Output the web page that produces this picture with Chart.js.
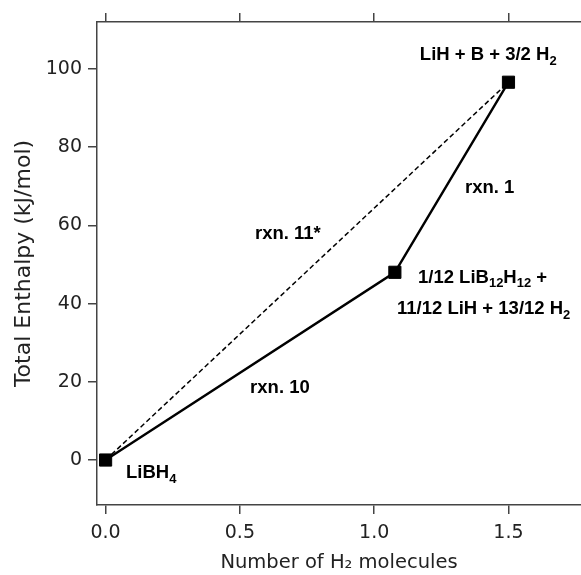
<!DOCTYPE html>
<html>
<head>
<meta charset="utf-8">
<script src="https://cdn.jsdelivr.net/npm/chart.js@4/dist/chart.umd.min.js"></script>
<style>
  html, body { margin: 0; padding: 0; background: #ffffff; }
  #wrap { width: 581px; height: 575px; }
</style>
</head>
<body>
<div id="wrap"><canvas id="c" width="581" height="575"></canvas></div>
<script>
// ---- data ----
const h2Molecules = [0, 1.077, 1.5];
const totalEnthalpy = [0, 48.0, 96.6];
const directH2 = [0, 1.5];
const directEnthalpy = [0, 96.6];
const xTicks = [0, 0.5, 1.0, 1.5];
const yTicks = [0, 20, 40, 60, 80, 100];

// annotation labels (text with _{...} subscripts) and their anchor in data units
const annLabels = [
  "LiH + B + 3/2 H_{2}",
  "rxn. 1",
  "rxn. 11*",
  "1/12 LiB_{12}H_{12} +",
  "11/12 LiH + 13/12 H_{2}",
  "rxn. 10",
  "LiBH_{4}"
];
const annX = [1.170, 1.338, 0.556, 1.163, 1.085, 0.538, 0.076];
const annY = [102.2, 68.3, 56.5, 45.3, 37.3, 17.1, -4.7];

const AXIS_FONT = "'DejaVu Sans', Verdana, sans-serif";
const ANN_FONT = "'Liberation Sans', Arial, sans-serif";
const AXIS_COLOR = '#444444';

function parseSegments(s) {
  const out = [];
  const re = /_\{([^}]*)\}/g;
  let last = 0, m;
  while ((m = re.exec(s)) !== null) {
    if (m.index > last) out.push({t: s.slice(last, m.index), sub: false});
    out.push({t: m[1], sub: true});
    last = re.lastIndex;
  }
  if (last < s.length) out.push({t: s.slice(last), sub: false});
  return out;
}

const annotationPlugin = {
  id: 'annText',
  afterDatasetsDraw(chart) {
    const ctx = chart.ctx;
    const xs = chart.scales.x, ys = chart.scales.y;
    ctx.save();
    ctx.fillStyle = '#000';
    ctx.textBaseline = 'alphabetic';
    ctx.textAlign = 'left';
    annLabels.forEach((lab, i) => {
      let px = xs.getPixelForValue(annX[i]);
      const py = ys.getPixelForValue(annY[i]);
      parseSegments(lab).forEach(seg => {
        if (seg.sub) {
          ctx.font = "bold 13px " + ANN_FONT;
          ctx.fillText(seg.t, px, py + 4.5);
        } else {
          ctx.font = "bold 18.5px " + ANN_FONT;
          ctx.fillText(seg.t, px, py);
        }
        px += ctx.measureText(seg.t).width;
      });
    });
    ctx.restore();
  }
};

const ctx = document.getElementById('c').getContext('2d');
new Chart(ctx, {
  type: 'scatter',
  data: {
    datasets: [
      {
        data: directH2.map((v, i) => ({x: v, y: directEnthalpy[i]})),
        showLine: true,
        borderColor: '#000',
        borderWidth: 1.5,
        borderDash: [5, 3],
        pointRadius: 0,
        fill: false
      },
      {
        data: h2Molecules.map((v, i) => ({x: v, y: totalEnthalpy[i]})),
        showLine: true,
        borderColor: '#000',
        borderWidth: 2.4,
        pointStyle: 'rect',
        pointRadius: 8.6,
        pointBackgroundColor: '#000',
        pointBorderColor: '#000',
        pointBorderWidth: 1,
        fill: false
      }
    ]
  },
  options: {
    responsive: false,
    animation: false,
    devicePixelRatio: 1,
    layout: { autoPadding: false, padding: 0 },
    plugins: {
      legend: { display: false },
      tooltip: { enabled: false }
    },
    scales: {
      x: {
        type: 'linear',
        position: 'bottom',
        min: -0.032,
        max: 1.77,
        afterBuildTicks: s => { s.ticks = xTicks.map(v => ({value: v})); },
        afterFit: s => { s.height = 70; s.paddingRight = 0; s.paddingLeft = 0; },
        ticks: {
          callback: v => Number(v).toFixed(1),
          font: { family: AXIS_FONT, size: 19 },
          color: '#222',
          padding: 8,
          maxRotation: 0,
          autoSkip: false
        },
        grid: { drawOnChartArea: false, drawTicks: true, tickLength: 9, tickColor: AXIS_COLOR, lineWidth: 1.5 },
        border: { display: true, color: AXIS_COLOR, width: 1.5 },
        title: {
          display: true,
          text: 'Number of H\u2082 molecules',
          font: { family: AXIS_FONT, size: 19.5 },
          color: '#222',
          padding: { top: 0, bottom: 0 }
        }
      },
      x2: {
        type: 'linear',
        position: 'top',
        min: -0.032,
        max: 1.77,
        afterBuildTicks: s => { s.ticks = xTicks.map(v => ({value: v})); },
        afterFit: s => { s.height = 22; s.paddingRight = 0; s.paddingLeft = 0; },
        ticks: { display: false },
        grid: { drawOnChartArea: false, drawTicks: true, tickLength: 9, tickColor: AXIS_COLOR, lineWidth: 1.5 },
        border: { display: true, color: AXIS_COLOR, width: 1.5 }
      },
      y: {
        type: 'linear',
        position: 'left',
        min: -11.5,
        max: 112,
        afterBuildTicks: s => { s.ticks = yTicks.map(v => ({value: v})); },
        afterFit: s => { s.width = 97; },
        ticks: {
          font: { family: AXIS_FONT, size: 19 },
          color: '#222',
          padding: 6,
          autoSkip: false
        },
        grid: { drawOnChartArea: false, drawTicks: true, tickLength: 9, tickColor: AXIS_COLOR, lineWidth: 1.5 },
        border: { display: true, color: AXIS_COLOR, width: 1.5 },
        title: {
          display: true,
          text: 'Total Enthalpy (kJ/mol)',
          font: { family: AXIS_FONT, size: 22 },
          color: '#222',
          padding: { top: 11, bottom: 0 }
        }
      }
    }
  },
  plugins: [annotationPlugin]
});
</script>
</body>
</html>
